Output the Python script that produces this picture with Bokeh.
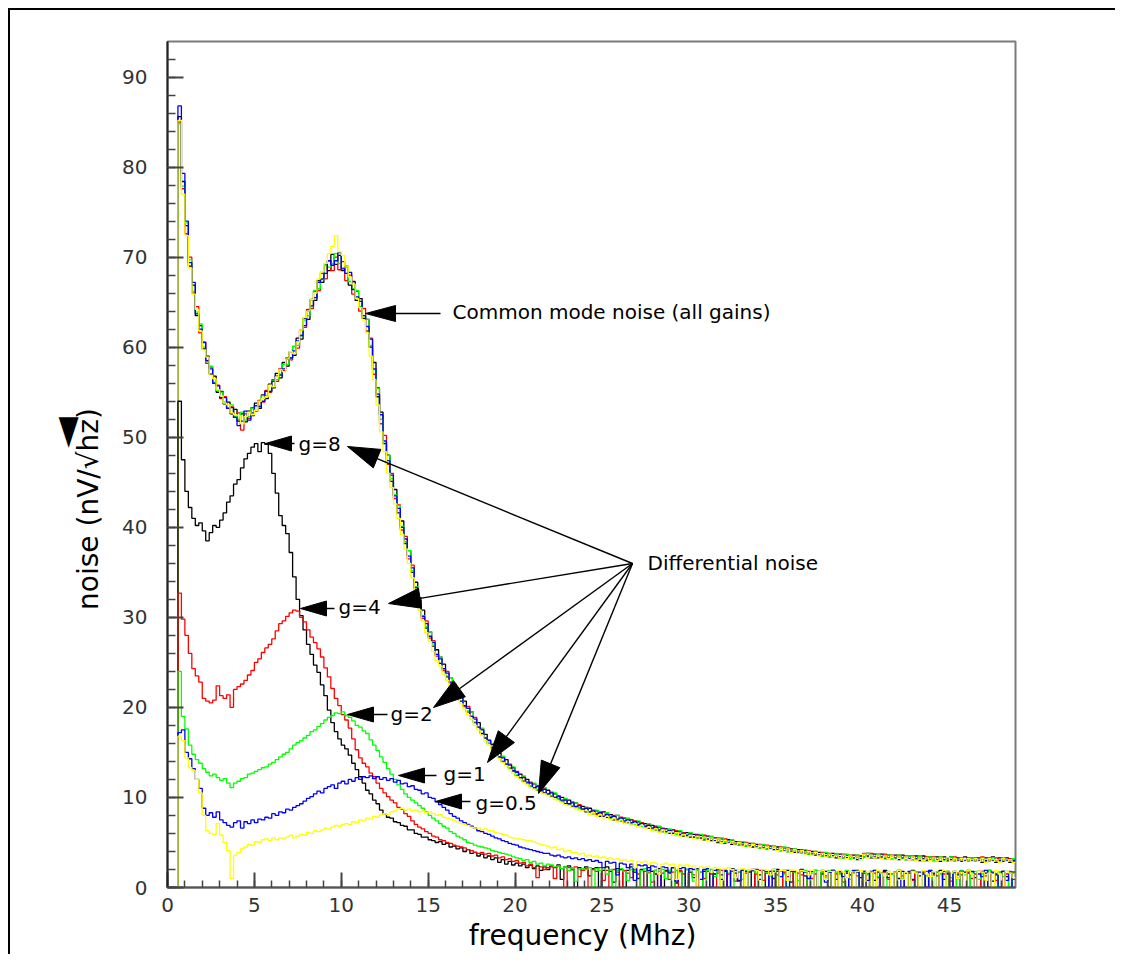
import numpy as np
from bokeh.plotting import figure
from bokeh.models import Range1d, SingleIntervalTicker, Label, Title
from bokeh.embed import file_html
from bokeh.resources import INLINE

# Noise spectra, 0.2 MHz bins starting at 0 MHz (nV/sqrt(Hz))
BIN_WIDTH = 0.2
X_MAX = 48.8
Y_MAX = 93.95

# common mode noise, one histogram per gain setting
cm_black = [
    0, 0, 0, 85.6, 78.4, 73.5, 69.0, 66.9, 63.5, 62.4,
    59.8, 59.0, 57.0, 56.8, 55.0, 55.1, 53.7, 53.9, 52.6, 53.1,
    51.8, 52.6, 51.7, 52.9, 52.4, 53.8, 53.2, 54.7, 54.3, 55.9,
    55.5, 57.1, 56.6, 58.3, 57.9, 59.5, 59.1, 61.0, 60.9, 63.2,
    63.1, 65.3, 65.2, 67.4, 67.2, 69.1, 68.5, 70.3, 69.2, 70.2,
    68.5, 69.0, 66.9, 67.3, 65.2, 65.4, 63.2, 63.1, 60.0, 58.3,
    54.5, 52.8, 49.3, 48.0, 45.1, 44.2, 41.6, 40.7, 38.2, 37.4,
    35.0, 33.9, 31.4, 30.8, 28.8, 28.4, 26.8, 26.4, 24.9, 24.8,
    23.4, 23.3, 22.0, 21.9, 20.7, 20.7, 19.5, 19.5, 18.3, 18.3,
    17.1, 17.0, 16.0, 15.9, 15.0, 14.9, 14.0, 14.2, 13.3, 13.3,
    12.4, 12.6, 11.8, 12.0, 11.3, 11.5, 10.8, 11.1, 10.5, 10.8,
    10.1, 10.4, 9.8, 10.0, 9.3, 9.7, 9.0, 9.4, 8.8, 9.0,
    8.4, 8.8, 8.2, 8.5, 7.9, 8.4, 7.8, 8.1, 7.5, 8.0,
    7.4, 7.7, 7.2, 7.5, 7.0, 7.3, 6.8, 7.1, 6.6, 6.9,
    6.4, 6.7, 6.2, 6.5, 6.0, 6.4, 5.9, 6.2, 5.7, 6.1,
    5.6, 5.9, 5.5, 5.8, 5.3, 5.7, 5.2, 5.5, 5.0, 5.4,
    4.9, 5.3, 4.8, 5.1, 4.7, 5.0, 4.6, 4.9, 4.5, 4.8,
    4.4, 4.7, 4.3, 4.6, 4.2, 4.5, 4.1, 4.4, 4.0, 4.3,
    3.9, 4.2, 3.8, 4.1, 3.7, 4.0, 3.6, 3.9, 3.5, 3.8,
    3.4, 3.8, 3.3, 3.7, 3.3, 3.6, 3.2, 3.6, 3.1, 3.5,
    3.4, 3.8, 3.3, 3.7, 3.3, 3.7, 3.2, 3.6, 3.2, 3.6,
    3.1, 3.6, 3.1, 3.5, 3.1, 3.5, 3.0, 3.5, 3.0, 3.4,
    3.0, 3.4, 2.9, 3.4, 3.0, 3.4, 2.9, 3.3, 2.9, 3.4,
    2.9, 3.3, 2.9, 3.3, 2.8, 3.3, 2.9, 3.4, 2.8, 3.3,
    2.9, 3.3, 2.8, 3.2,
]
cm_red = [
    0, 0, 0, 85.0, 77.6, 72.6, 70.0, 66.0, 64.5, 61.6,
    60.6, 58.2, 57.8, 56.0, 55.8, 54.3, 54.5, 53.2, 53.4, 52.2,
    52.7, 50.8, 52.6, 52.1, 53.3, 52.9, 54.1, 53.9, 55.2, 55.0,
    56.4, 56.2, 57.6, 57.4, 58.8, 58.6, 60.1, 59.9, 61.9, 62.2,
    64.2, 64.3, 66.2, 66.3, 68.2, 67.6, 69.6, 68.5, 70.0, 68.6,
    69.5, 67.4, 68.0, 65.9, 66.2, 64.0, 64.3, 61.8, 61.0, 57.0,
    55.5, 51.5, 50.2, 47.0, 46.0, 43.2, 42.5, 39.7, 39.0, 36.5,
    35.8, 33.1, 32.2, 29.9, 29.6, 27.7, 27.4, 25.7, 25.6, 24.1,
    24.0, 22.7, 22.6, 21.3, 21.3, 20.1, 20.1, 19.0, 18.9, 17.8,
    17.6, 16.6, 16.4, 15.5, 15.4, 14.5, 14.5, 13.7, 13.7, 12.9,
    12.9, 12.2, 12.3, 11.6, 11.7, 11.1, 11.3, 10.7, 11.0, 10.4,
    10.6, 10.0, 10.2, 9.6, 9.8, 9.3, 9.5, 8.9, 9.2, 8.7,
    8.9, 8.4, 8.6, 8.1, 8.4, 7.9, 8.2, 7.7, 8.0, 7.5,
    7.8, 7.3, 7.6, 7.1, 7.4, 6.9, 7.2, 6.8, 7.0, 6.6,
    6.8, 6.3, 6.6, 6.1, 6.4, 6.0, 6.3, 5.8, 6.1, 5.7,
    6.0, 5.6, 5.9, 5.4, 5.8, 5.3, 5.6, 5.2, 5.5, 5.0,
    5.4, 4.9, 5.2, 4.8, 5.1, 4.7, 5.0, 4.6, 4.9, 4.5,
    4.8, 4.4, 4.7, 4.3, 4.6, 4.2, 4.5, 4.1, 4.4, 4.0,
    4.3, 3.9, 4.2, 3.8, 4.1, 3.7, 4.0, 3.6, 3.9, 3.5,
    3.8, 3.5, 3.7, 3.4, 3.7, 3.3, 3.6, 3.2, 3.6, 3.2,
    3.8, 3.4, 3.8, 3.3, 3.7, 3.3, 3.7, 3.2, 3.6, 3.2,
    3.6, 3.2, 3.5, 3.1, 3.5, 3.1, 3.5, 3.0, 3.4, 3.1,
    3.4, 3.0, 3.4, 3.0, 3.3, 2.9, 3.4, 3.0, 3.3, 2.9,
    3.3, 2.9, 3.3, 3.0, 3.4, 2.9, 3.3, 2.9, 3.3, 3.0,
    3.3, 2.9, 3.2, 2.9,
]
cm_green = [
    0, 0, 0, 84.8, 77.9, 73.8, 69.7, 66.2, 63.9, 62.6,
    60.0, 58.4, 57.9, 56.1, 55.2, 55.0, 53.9, 53.3, 53.6, 52.3,
    52.0, 52.8, 51.9, 52.3, 53.2, 53.0, 53.5, 54.6, 54.6, 55.1,
    56.3, 56.4, 57.0, 58.1, 58.1, 58.8, 60.1, 60.2, 61.3, 63.0,
    63.5, 64.6, 66.3, 66.5, 67.5, 69.1, 68.9, 69.3, 70.4, 69.3,
    68.8, 68.9, 67.3, 66.5, 66.3, 64.5, 63.5, 63.1, 60.2, 57.5,
    55.4, 52.0, 49.5, 48.0, 45.4, 43.6, 42.4, 40.1, 38.4, 37.4,
    35.2, 33.4, 32.1, 30.2, 29.0, 28.4, 26.9, 25.9, 25.6, 24.3,
    23.5, 23.3, 22.1, 21.4, 21.3, 20.2, 19.6, 19.5, 18.4, 17.8,
    17.7, 16.6, 16.0, 16.0, 15.0, 14.5, 14.6, 13.7, 13.3, 13.4,
    12.5, 12.2, 12.4, 11.6, 11.3, 11.6, 10.9, 10.7, 11.1, 10.4,
    10.2, 10.5, 9.8, 9.6, 9.9, 9.3, 9.1, 9.4, 8.8, 8.7,
    8.9, 8.4, 8.2, 8.6, 8.0, 7.9, 8.3, 7.7, 7.6, 8.0,
    7.4, 7.3, 7.7, 7.1, 7.0, 7.4, 6.8, 6.7, 7.1, 6.5,
    6.4, 6.8, 6.2, 6.1, 6.5, 6.0, 5.9, 6.3, 5.8, 5.7,
    6.1, 5.6, 5.5, 5.9, 5.4, 5.3, 5.7, 5.2, 5.1, 5.5,
    5.0, 4.9, 5.3, 4.8, 4.7, 5.1, 4.6, 4.6, 4.9, 4.5,
    4.4, 4.8, 4.3, 4.3, 4.6, 4.2, 4.1, 4.5, 4.0, 4.0,
    4.3, 3.9, 3.8, 4.2, 3.7, 3.7, 4.0, 3.6, 3.5, 3.9,
    3.4, 3.4, 3.8, 3.3, 3.3, 3.7, 3.2, 3.2, 3.6, 3.1,
    3.4, 3.8, 3.4, 3.3, 3.7, 3.3, 3.3, 3.6, 3.2, 3.2,
    3.6, 3.2, 3.1, 3.5, 3.1, 3.1, 3.5, 3.0, 3.1, 3.4,
    3.0, 3.0, 3.4, 3.0, 2.9, 3.4, 2.9, 3.0, 3.3, 2.9,
    2.9, 3.3, 2.9, 2.9, 3.3, 2.8, 2.9, 3.3, 2.9, 2.8,
    3.3, 2.9, 2.9, 3.2,
]
cm_blue = [
    0, 0, 0, 86.8, 79.3, 74.0, 69.4, 67.2, 63.7, 62.0,
    60.5, 58.5, 57.6, 56.0, 55.7, 54.4, 54.4, 53.2, 53.3, 52.2,
    51.3, 51.8, 52.9, 51.9, 52.7, 53.5, 53.4, 54.0, 55.1, 55.1,
    56.2, 56.8, 56.9, 57.6, 58.7, 58.8, 59.6, 60.7, 61.3, 62.4,
    64.0, 64.6, 65.5, 67.2, 67.6, 68.2, 69.6, 69.1, 69.6, 70.5,
    68.7, 68.2, 68.3, 66.4, 65.6, 65.1, 63.5, 62.3, 60.9, 57.6,
    54.8, 52.5, 49.6, 47.4, 45.8, 43.5, 42.1, 40.0, 38.7, 36.8,
    35.5, 33.3, 31.9, 30.1, 29.3, 27.9, 27.2, 25.9, 25.4, 24.3,
    23.8, 22.8, 22.4, 21.4, 21.1, 20.2, 19.9, 19.0, 18.7, 17.8,
    17.5, 16.6, 16.3, 15.5, 15.3, 14.5, 14.4, 13.7, 13.6, 13.0,
    12.8, 12.2, 12.2, 11.7, 11.6, 11.1, 11.2, 10.8, 10.9, 10.4,
    10.5, 10.0, 10.1, 9.7, 9.7, 9.3, 9.4, 9.0, 9.1, 8.7,
    8.8, 8.4, 8.5, 8.2, 8.3, 7.9, 8.1, 7.8, 7.9, 7.6,
    7.7, 7.4, 7.5, 7.2, 7.3, 7.0, 7.1, 6.8, 6.9, 6.6,
    6.7, 6.4, 6.5, 6.2, 6.3, 6.0, 6.2, 5.9, 6.0, 5.8,
    5.9, 5.6, 5.8, 5.5, 5.6, 5.4, 5.5, 5.2, 5.4, 5.1,
    5.2, 5.0, 5.1, 4.8, 5.0, 4.7, 4.9, 4.6, 4.8, 4.5,
    4.7, 4.4, 4.6, 4.3, 4.5, 4.2, 4.4, 4.1, 4.3, 4.0,
    4.2, 3.9, 4.1, 3.8, 4.0, 3.7, 3.9, 3.6, 3.8, 3.5,
    3.7, 3.5, 3.6, 3.4, 3.6, 3.3, 3.5, 3.3, 3.4, 3.2,
    3.7, 3.5, 3.6, 3.4, 3.6, 3.4, 3.5, 3.3, 3.5, 3.3,
    3.4, 3.3, 3.4, 3.2, 3.4, 3.2, 3.3, 3.2, 3.3, 3.1,
    3.3, 3.1, 3.3, 3.1, 3.2, 3.1, 3.2, 3.0, 3.2, 3.0,
    3.2, 3.0, 3.2, 3.0, 3.2, 3.0, 3.2, 3.0, 3.1, 3.0,
    3.2, 3.0, 3.1, 3.0,
]
cm_yellow = [
    0, 0, 0, 85.2, 77.0, 72.4, 68.8, 65.9, 64.2, 61.8,
    59.7, 58.9, 56.9, 56.5, 55.3, 54.6, 53.8, 53.6, 52.7, 52.5,
    52.4, 51.5, 52.3, 52.8, 52.5, 53.0, 54.0, 54.3, 54.5, 55.8,
    55.6, 56.7, 57.5, 57.3, 58.7, 59.5, 59.3, 60.6, 61.9, 63.3,
    64.0, 65.3, 66.0, 67.6, 68.4, 69.3, 70.4, 71.2, 72.4, 70.6,
    70.2, 69.0, 67.8, 67.0, 65.4, 64.4, 63.0, 61.6, 59.0, 56.4,
    53.6, 50.6, 48.4, 46.0, 44.4, 42.6, 41.0, 39.2, 37.6, 36.0,
    34.4, 32.6, 30.8, 29.6, 28.3, 27.3, 26.2, 25.2, 24.6, 23.7,
    23.0, 22.3, 21.6, 21.0, 20.4, 19.8, 19.2, 18.7, 18.0, 17.5,
    16.9, 16.3, 15.8, 15.3, 14.8, 14.3, 13.9, 13.5, 13.1, 12.7,
    12.3, 12.0, 11.7, 11.4, 11.1, 10.9, 10.7, 10.5, 10.4, 10.2,
    10.0, 9.8, 9.6, 9.4, 9.2, 9.1, 8.9, 8.8, 8.6, 8.5,
    8.5, 8.1, 8.3, 7.9, 8.1, 7.7, 7.9, 7.5, 7.7, 7.3,
    7.5, 7.1, 7.3, 6.9, 7.1, 6.7, 6.9, 6.5, 6.7, 6.3,
    6.5, 6.1, 6.4, 6.0, 6.2, 5.8, 6.1, 5.7, 5.9, 5.6,
    5.8, 5.4, 5.7, 5.3, 5.6, 5.2, 5.5, 5.1, 5.4, 5.0,
    5.2, 4.9, 5.1, 4.7, 5.0, 4.6, 4.9, 4.5, 4.8, 4.4,
    4.7, 4.3, 4.6, 4.2, 4.5, 4.1, 4.4, 4.0, 4.3, 3.9,
    4.2, 3.8, 4.1, 3.7, 4.0, 3.6, 3.9, 3.5, 3.8, 3.4,
    3.7, 3.4, 3.6, 3.3, 3.6, 3.2, 3.5, 3.1, 3.4, 3.1,
    3.7, 3.3, 3.6, 3.3, 3.6, 3.2, 3.5, 3.2, 3.5, 3.1,
    3.4, 3.1, 3.4, 3.1, 3.4, 3.0, 3.3, 3.0, 3.3, 3.0,
    3.3, 3.0, 3.3, 2.9, 3.3, 2.9, 3.2, 2.9, 3.2, 2.9,
    3.2, 2.9, 3.2, 2.9, 3.2, 2.8, 3.2, 2.9, 3.1, 2.8,
    3.2, 2.9, 3.1, 2.8,
]

# differential noise, one histogram per gain
diff_g8 = [
    0, 0, 0, 54.0, 47.5, 44.0, 42.2, 41.0, 40.2, 40.5,
    39.6, 38.5, 39.4, 40.2, 40.0, 40.8, 41.6, 42.8, 43.5, 44.8,
    45.3, 46.6, 47.6, 48.2, 48.9, 49.3, 48.4, 49.4, 49.2, 48.2,
    46.0, 43.8, 41.3, 40.2, 39.3, 37.2, 34.5, 32.0, 30.2, 28.6,
    27.0, 25.9, 24.7, 23.9, 22.5, 21.3, 19.7, 18.3, 17.3, 16.5,
    15.8, 15.4, 14.7, 13.8, 13.1, 12.3, 11.6, 10.8, 10.4, 9.7,
    9.3, 8.6, 8.2, 7.8, 7.7, 7.3, 7.2, 6.9, 6.8, 6.4,
    6.4, 6.0, 5.9, 5.6, 5.6, 5.3, 5.2, 5.0, 5.1, 4.8,
    4.9, 4.5, 4.6, 4.3, 4.4, 4.0, 4.2, 3.8, 3.9, 3.5,
    3.7, 3.3, 3.5, 3.1, 3.3, 2.8, 3.1, 2.6, 2.9, 2.5,
    2.7, 2.4, 2.6, 2.2, 2.5, 2.1, 2.4, 1.9, 2.3, 2.0,
    2.4, 2.2, 2.5, 0.9, 2.3, 2.4, 2.0, 0, 2.2, 1.9,
    2.3, 1.3, 2.1, 2.2, 0, 1.9, 2.3, 1.8, 0.6, 2.1,
    2.0, 0, 1.9, 2.3, 1.7, 1.0, 2.0, 0, 2.2, 1.8,
    1.5, 2.1, 0, 1.9, 1.6, 2.2, 0.5, 1.8, 0, 2.0,
    1.7, 1.1, 2.1, 0, 1.8, 1.9, 0, 1.5, 2.0, 0.9,
    1.8, 0, 2.1, 1.6, 0.8, 1.9, 0, 1.7, 2.0, 0,
    1.4, 1.9, 0, 1.8, 1.0, 2.0, 0, 1.6, 1.9, 0.6,
    1.7, 0, 2.0, 1.3, 0, 1.8, 1.9, 0, 1.5, 1.8,
    0, 1.9, 0.9, 1.6, 0, 1.8, 1.4, 0, 1.9, 1.1,
    1.6, 0, 1.8, 0.8, 1.7, 0, 1.9, 1.5, 0, 1.7,
    1.0, 1.8, 0, 1.6, 1.9, 0, 1.3, 1.7, 0, 1.8,
    1.5, 0, 1.9, 0.9, 1.6, 0, 1.8, 1.4, 0, 1.7,
    1.9, 0, 1.1, 1.8, 0, 1.6, 1.9, 0.7, 1.5, 0,
    1.8, 1.2, 0, 1.7,
]
diff_g4 = [
    0, 0, 0, 32.7, 29.8, 28.0, 26.0, 24.3, 23.5, 22.8,
    21.0, 20.7, 20.5, 20.8, 22.4, 21.3, 21.0, 21.4, 20.0, 22.0,
    22.3, 22.6, 23.0, 23.6, 24.1, 25.0, 25.4, 26.1, 26.6, 27.0,
    27.6, 28.5, 29.3, 29.6, 30.1, 30.5, 30.8, 30.7, 30.0, 29.5,
    28.6, 27.8, 27.2, 26.5, 25.6, 24.4, 23.4, 22.1, 21.0, 20.2,
    19.2, 18.6, 17.7, 16.5, 15.3, 14.4, 13.8, 13.4, 12.7, 12.3,
    11.6, 11.0, 10.5, 10.1, 9.7, 9.4, 8.9, 8.7, 8.2, 7.9,
    7.4, 7.0, 6.7, 6.5, 6.2, 6.0, 5.7, 5.6, 5.3, 5.2,
    5.0, 4.9, 4.7, 4.6, 4.5, 4.4, 4.2, 4.1, 3.9, 3.8,
    3.9, 3.7, 3.8, 3.5, 3.6, 3.3, 3.4, 3.1, 3.2, 2.9,
    3.0, 2.7, 2.8, 2.4, 2.6, 2.2, 1.1, 2.3, 2.0, 2.2,
    2.3, 1.0, 2.4, 2.1, 0, 2.2, 2.0, 2.3, 1.2, 1.9,
    2.1, 0, 2.0, 1.8, 2.2, 0.8, 1.9, 0, 2.0, 1.7,
    0, 1.9, 1.6, 1.1, 2.0, 1.5, 0, 1.8, 1.7, 0.6,
    1.9, 0, 1.6, 1.8, 0.9, 1.7, 0, 1.9, 1.5, 0,
    1.8, 1.4, 0, 1.7, 1.0, 1.8, 1.5, 0, 1.6, 1.9,
    0, 1.5, 1.8, 0.7, 1.7, 0, 1.6, 1.8, 0, 1.5,
    1.9, 0.8, 1.6, 0, 1.8, 1.4, 0, 1.7, 1.2, 1.8,
    0, 1.6, 1.4, 0, 1.8, 1.0, 1.5, 0, 1.7, 1.3,
    1.7, 0, 1.5, 1.8, 0.6, 1.6, 0, 1.7, 1.3, 0,
    1.8, 1.5, 0, 1.6, 1.1, 0, 1.7, 0.9, 1.5, 0,
    1.8, 1.3, 0, 1.6, 0.8, 1.7, 0, 1.5, 1.8, 0,
    1.4, 1.7, 0, 1.5, 1.8, 0.7, 0, 1.6, 1.4, 0,
    1.7, 1.0, 1.5, 0, 1.8, 1.3, 0, 1.6, 0.8, 1.7,
    0, 1.5, 1.8, 0.9,
]
diff_g2 = [
    0, 0, 0, 24.0, 19.0, 17.6, 15.8, 14.8, 14.2, 13.8,
    13.2, 12.8, 12.4, 12.6, 12.2, 11.9, 12.1, 11.6, 11.1, 11.6,
    11.8, 12.1, 12.2, 12.6, 12.7, 12.9, 13.1, 13.3, 13.4, 13.7,
    13.9, 14.2, 14.5, 14.8, 15.0, 15.4, 15.8, 16.1, 16.3, 16.6,
    16.9, 17.3, 17.5, 17.9, 18.2, 18.6, 18.9, 19.1, 19.4, 19.3,
    19.5, 19.1, 18.9, 18.5, 18.0, 17.8, 17.4, 17.1, 16.4, 15.8,
    15.2, 14.5, 13.9, 13.2, 12.6, 12.0, 11.4, 10.9, 10.4, 10.0,
    9.7, 9.4, 9.1, 8.8, 8.4, 8.0, 7.7, 7.4, 7.1, 6.8,
    6.6, 6.2, 6.0, 5.7, 5.5, 5.3, 5.0, 4.9, 4.7, 4.6,
    4.5, 4.4, 4.3, 4.1, 4.0, 3.9, 3.8, 3.7, 3.6, 3.4,
    3.3, 3.2, 3.0, 3.1, 2.8, 2.9, 2.6, 2.7, 2.4, 2.6,
    2.5, 2.3, 2.4, 2.1, 2.3, 1.9, 2.2, 0.7, 2.0, 2.1,
    2.0, 2.2, 0, 2.1, 1.9, 2.2, 1.5, 2.0, 0, 1.9,
    2.1, 1.8, 0.8, 2.0, 1.9, 0, 1.9, 2.1, 1.6, 0,
    1.9, 1.8, 2.0, 1.0, 1.9, 0, 1.9, 1.7, 0, 2.0,
    1.8, 0.7, 1.9, 1.7, 0, 1.9, 2.0, 1.2, 1.8, 0,
    1.9, 1.6, 0, 1.9, 1.7, 0.9, 1.9, 0, 1.8, 1.6,
    0, 1.9, 1.7, 1.3, 1.9, 0, 1.8, 1.5, 0, 1.9,
    1.7, 0.8, 1.8, 1.9, 0, 1.6, 1.9, 0, 1.7, 1.1,
    1.9, 0, 1.7, 1.5, 0, 1.9, 0.9, 1.6, 1.8, 0,
    1.7, 1.4, 0, 1.9, 1.2, 1.6, 0, 1.8, 1.5, 0,
    1.9, 1.0, 1.6, 0, 1.8, 1.7, 0, 1.5, 1.3, 1.9,
    0, 1.7, 1.5, 0, 1.8, 1.1, 1.6, 0, 1.9, 1.4,
    0, 1.7, 1.8, 0.9, 1.5, 0, 1.9, 1.6, 0, 1.7,
    1.2, 1.8, 0, 1.6,
]
diff_g1 = [
    0, 0, 0, 17.2, 17.5, 15.0, 14.3, 13.2, 12.0, 11.0,
    8.8, 8.0, 8.3, 7.8, 8.4, 7.5, 7.2, 6.9, 6.7, 7.2,
    7.4, 6.6, 7.3, 7.1, 7.5, 7.2, 7.6, 7.5, 7.8, 7.7,
    8.2, 8.0, 8.4, 8.3, 8.7, 8.6, 8.9, 9.1, 9.3, 9.6,
    9.9, 10.1, 10.4, 10.7, 10.5, 11.0, 11.2, 11.4, 11.0, 11.6,
    11.8, 11.5, 12.0, 11.8, 12.2, 12.0, 12.3, 12.2, 12.4, 12.1,
    12.3, 12.0, 12.2, 11.9, 12.1, 11.7, 11.9, 11.5, 11.6, 11.2,
    11.3, 10.9, 10.8, 10.4, 10.5, 10.0, 9.9, 9.5, 9.2, 8.9,
    8.6, 8.2, 7.9, 7.7, 7.4, 7.2, 7.0, 6.8, 6.6, 6.3,
    6.2, 6.0, 5.9, 5.7, 5.5, 5.4, 5.2, 5.1, 4.9, 4.8,
    4.7, 4.5, 4.4, 4.3, 4.2, 4.1, 4.0, 3.9, 3.8, 3.8,
    3.6, 3.5, 3.6, 3.4, 3.3, 3.4, 3.2, 3.3, 3.1, 3.2,
    3.0, 3.1, 2.9, 3.0, 2.8, 2.2, 2.9, 2.7, 2.8, 1.4,
    2.7, 2.6, 2.2, 2.6, 0.8, 2.5, 2.4, 2.5, 1.9, 2.4,
    2.3, 0, 2.3, 2.2, 1.7, 2.2, 0.7, 2.1, 2.2, 0,
    2.1, 2.0, 2.1, 0.9, 2.0, 2.1, 0, 1.9, 2.0, 1.4,
    1.9, 0, 2.0, 1.9, 0.7, 1.9, 1.8, 0, 1.9, 2.0,
    0.9, 1.9, 1.8, 0, 2.0, 1.8, 1.2, 1.9, 0, 1.8,
    1.8, 0, 1.9, 1.7, 1.0, 1.8, 0, 1.8, 1.9, 0.6,
    1.7, 1.9, 0, 1.8, 1.2, 1.6, 0, 1.9, 1.7, 0,
    1.8, 0.8, 1.7, 1.9, 0, 1.6, 1.8, 1.1, 0, 1.7,
    1.9, 0, 1.6, 1.8, 0.9, 0, 1.7, 1.5, 0, 1.9,
    1.6, 1.3, 0, 1.8, 1.5, 0, 1.7, 1.0, 1.8, 0,
    1.6, 1.8, 0, 1.5, 1.2, 1.9, 0, 1.7, 1.4, 0,
    1.8, 0.8, 1.6, 0,
]
diff_g05 = [
    0, 0, 0, 16.8, 16.3, 14.4, 13.3, 13.0, 12.0, 10.5,
    8.0, 6.3, 6.0, 5.9, 7.1, 5.8, 5.0, 4.1, 1.0, 3.6,
    3.9, 4.3, 4.5, 4.8, 4.7, 5.1, 5.0, 5.3, 5.4, 5.2,
    5.5, 5.3, 5.5, 5.4, 5.6, 5.8, 5.5, 5.7, 5.9, 5.8,
    6.1, 6.0, 6.3, 6.2, 6.4, 6.6, 6.5, 6.7, 6.9, 6.8,
    7.0, 7.1, 7.0, 7.3, 7.2, 7.5, 7.4, 7.7, 7.6, 7.9,
    7.8, 8.1, 8.2, 8.1, 8.4, 8.5, 8.7, 8.8, 8.6, 8.7,
    8.5, 8.6, 8.4, 8.5, 8.3, 8.4, 8.2, 8.0, 8.1, 7.8,
    7.7, 7.6, 7.4, 7.3, 7.1, 7.0, 6.9, 6.7, 6.6, 6.6,
    6.4, 6.5, 6.3, 6.3, 6.1, 6.0, 5.9, 5.8, 5.6, 5.5,
    5.4, 5.4, 5.3, 5.2, 5.2, 5.1, 4.9, 4.8, 4.7, 4.6,
    4.4, 4.5, 4.2, 4.3, 4.0, 4.1, 3.9, 3.9, 3.7, 3.8,
    3.5, 3.6, 3.4, 3.5, 3.3, 3.4, 3.2, 3.3, 3.1, 3.2,
    3.0, 3.1, 2.9, 3.0, 2.2, 2.9, 2.8, 2.9, 2.6, 2.8,
    2.7, 1.5, 2.6, 2.7, 2.5, 2.6, 0.9, 2.5, 2.4, 2.5,
    2.3, 2.4, 0, 2.3, 2.2, 2.3, 1.7, 2.2, 2.1, 0,
    2.1, 2.2, 2.0, 1.1, 2.0, 2.1, 0, 2.0, 2.0, 1.9,
    0, 2.0, 1.9, 1.4, 2.0, 0, 1.9, 1.9, 0.8, 1.9,
    1.9, 0, 1.9, 1.8, 1.4, 1.9, 0, 1.8, 1.9, 0.9,
    1.8, 1.8, 0, 1.9, 1.7, 1.1, 1.8, 0, 1.8, 1.9,
    0.7, 1.8, 1.7, 0, 1.9, 1.6, 1.3, 1.8, 0, 1.7,
    1.9, 0.9, 1.7, 0, 1.8, 1.6, 0, 1.9, 1.5, 1.2,
    1.8, 0, 1.7, 1.9, 0, 1.6, 1.8, 1.0, 1.7, 0,
    1.9, 1.5, 0, 1.8, 1.7, 0.8, 1.6, 0, 1.9, 1.5,
    0, 1.8, 1.6, 1.1,
]

colors = ["#000000", "#ff0000", "#00ff00", "#0000ff", "#ffff00"]
common_mode = [cm_black, cm_red, cm_green, cm_blue, cm_yellow]
differential = [diff_g8, diff_g4, diff_g2, diff_g1, diff_g05]

# page geometry (pixels): the plot starts 10px in from the page corner,
# with a 2px rule drawn just outside its left and top edges
OFF = 10
W, H = 1123 - OFF - 2, 950
LEFT, RIGHT, TOP, BOTTOM = 167, 1015, 41, 887   # frame edges on the page
FONT = "DejaVu Sans"


def dx(px):
    return (px - LEFT) / (RIGHT - LEFT) * X_MAX


def dy(py):
    return (BOTTOM - py) / (BOTTOM - TOP) * Y_MAX


p = figure(width=W, height=H, x_range=Range1d(0, X_MAX), y_range=Range1d(0, Y_MAX),
           output_backend="svg", toolbar_location=None,
           min_border_left=LEFT - OFF, min_border_right=W - (RIGHT - OFF),
           min_border_top=TOP - OFF, min_border_bottom=H - (BOTTOM - OFF))
# rule along the left and top edges only (shadow is shrunk so it stays hidden elsewhere)
p.styles = {"margin-left": "10px", "margin-top": "10px",
            "box-shadow": "-4px -4px 0 -2px #000000"}
p.title.visible = False
p.background_fill_color = "white"
p.border_fill_color = "white"
p.grid.visible = False
p.outline_line_color = "#7a7a7a"
p.outline_line_width = 2

p.xaxis.ticker = SingleIntervalTicker(interval=5, num_minor_ticks=5)
p.yaxis.ticker = SingleIntervalTicker(interval=10, num_minor_ticks=5)
for ax in (p.xaxis, p.yaxis):
    ax.major_tick_out = 0
    ax.minor_tick_out = 0
    ax.major_tick_line_width = 2
    ax.minor_tick_line_width = 1.5
    ax.major_tick_line_color = "#444444"
    ax.minor_tick_line_color = "#444444"
    ax.axis_line_width = 2
    ax.major_label_text_font = FONT
    ax.major_label_text_font_size = "20px"
    ax.major_label_text_color = "#333333"
    ax.axis_label_text_font = FONT
    ax.axis_label_text_font_size = "28px"
    ax.axis_label_text_font_style = "normal"
    ax.axis_label_text_color = "black"
p.xaxis.major_tick_in = 15
p.xaxis.minor_tick_in = 7
p.yaxis.major_tick_in = 16
p.yaxis.minor_tick_in = 8
p.xaxis.axis_line_color = "#555555"
p.yaxis.axis_line_color = "#222222"
p.xaxis.major_label_standoff = 10
p.yaxis.major_label_standoff = 20
p.xaxis.axis_label = "frequency (Mhz)" + "\u00a0" * 2
p.xaxis.axis_label_standoff = 4
p.yaxis.axis_label = "noise (nV/\u221ahz)" + "\u00a0" * 10
p.yaxis.axis_label_standoff = 14

# arrow glyph that sits over the root sign of the y title
p.add_layout(Title(text="\u00a0" * 5 + "\u25c4", text_font=FONT, text_font_size="40px",
                   text_font_style="normal", text_color="black",
                   align="center", standoff=-36), "left")


def hist(vals, color):
    v = np.asarray(vals, dtype=float)
    x = np.arange(len(v) + 1) * BIN_WIDTH
    y = np.append(v, v[-1])
    p.step(x, y, mode="after", line_color=color, line_width=1.3)


for vals, c in zip(common_mode, colors):
    hist(vals, c)
for vals, c in zip(differential, colors):
    hist(vals, c)


def arrow(tip, tail, head_len, half_w, lw=1.5):
    tx, ty = tip
    vx, vy = tail[0] - tx, tail[1] - ty
    n = np.hypot(vx, vy)
    ux, uy = vx / n, vy / n
    bx, by = tx + ux * head_len, ty + uy * head_len
    nx, ny = -uy, ux
    pts = [(tx, ty), (bx + nx * half_w, by + ny * half_w), (bx - nx * half_w, by - ny * half_w)]
    p.patch([dx(a) for a, _ in pts], [dy(b) for _, b in pts],
            fill_color="black", line_color="black", line_width=1)
    p.line([dx(bx), dx(tail[0])], [dy(by), dy(tail[1])], line_color="black", line_width=lw)


def text(px, py, s, size="20px"):
    p.add_layout(Label(x=dx(px), y=dy(py), text=s, text_font=FONT, text_font_size=size,
                       text_align="left", text_baseline="middle", text_color="black"))


# labelled arrows
arrow((365, 313), (440, 313), 30, 8)
text(452, 311, "Common mode noise (all gains)")

gain_labels = [("g=8", (265, 443), (294, 443), 298, 443),
               ("g=4", (300, 608), (334, 608), 338, 606),
               ("g=2", (347, 714), (387, 714), 390, 713),
               ("g=1", (398, 775), (436, 775), 443, 773),
               ("g=0.5", (435, 801), (470, 801), 475, 802)]
for s, tip, tail, lx, ly in gain_labels:
    arrow(tip, tail, 26, 7.5)
    text(lx, ly, s)

hub = (632, 563)
for tip in [(347, 446), (388, 603), (433, 707), (487, 762), (538, 793)]:
    arrow(tip, hub, 32, 10, lw=1.4)
text(647, 562, "Differential noise")

open("out.html", "w").write(file_html(p, INLINE))
